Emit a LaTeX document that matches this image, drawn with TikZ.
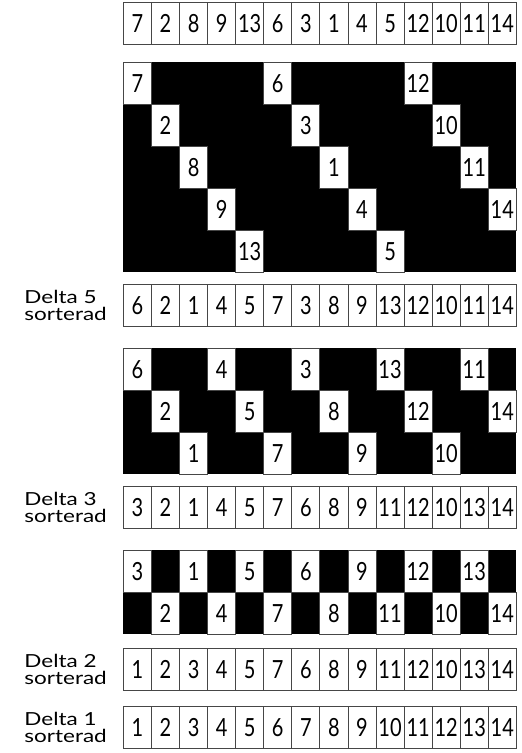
\documentclass[tikz,border=0pt]{standalone}
\usepackage{fontspec}
\setmainfont{Lato}
\newfontfamily\digitfont[FakeStretch=0.8]{Lato}
\newfontfamily\labelfont[FakeStretch=1.25]{Lato}
\usetikzlibrary{positioning}
\definecolor{cellline}{RGB}{70,70,70}
\tikzset{cell/.style={draw=cellline,line width=.8pt,fill=white,anchor=north west,
  minimum width=28.07pt,minimum height=42pt,inner sep=0pt,
  font=\digitfont\fontsize{25}{26}\selectfont},
  lbl/.style={align=left,anchor=east,inner sep=0pt,
  font=\labelfont\fontsize{18}{16.5}\selectfont}}

\begin{document}
\begin{tikzpicture}[x=1pt,y=-1pt]
\useasboundingbox (0,0) rectangle (522,753);
% start row
\foreach \v [count=\i from 0] in {7,2,8,9,13,6,3,1,4,5,12,10,11,14}
  \node[cell] (t\i) at ({123+28.07*\i},2) {\v};
% delta 5
\fill (123,62) rectangle (516,272);
\foreach \v [count=\i from 0] in {7,2,8,9,13,6,3,1,4,5,12,10,11,14}{
  \pgfmathtruncatemacro\r{mod(\i,5)}
  \node[cell] (a\i) at ({123+28.07*\i},{62+42*\r}) {\v};}
\foreach \v [count=\i from 0] in {6,2,1,4,5,7,3,8,9,13,12,10,11,14}
  \node[cell] (p\i) at ({123+28.07*\i},284) {\v};
\node[lbl,left=16pt of p0] (l5) {Delta 5\\sorterad};
% delta 3
\fill (123,348) rectangle (516,474);
\foreach \v [count=\i from 0] in {6,2,1,4,5,7,3,8,9,13,12,10,11,14}{
  \pgfmathtruncatemacro\r{mod(\i,3)}
  \node[cell] (b\i) at ({123+28.07*\i},{348+42*\r}) {\v};}
\foreach \v [count=\i from 0] in {3,2,1,4,5,7,6,8,9,11,12,10,13,14}
  \node[cell] (q\i) at ({123+28.07*\i},486) {\v};
\node[lbl,left=16pt of q0] (l3) {Delta 3\\sorterad};
% delta 2
\fill (123,550) rectangle (516,634);
\foreach \v [count=\i from 0] in {3,2,1,4,5,7,6,8,9,11,12,10,13,14}{
  \pgfmathtruncatemacro\r{mod(\i,2)}
  \node[cell] (c\i) at ({123+28.07*\i},{550+42*\r}) {\v};}
\foreach \v [count=\i from 0] in {1,2,3,4,5,7,6,8,9,11,12,10,13,14}
  \node[cell] (s\i) at ({123+28.07*\i},648) {\v};
\node[lbl,left=16pt of s0] (l2) {Delta 2\\sorterad};
% delta 1
\foreach \v [count=\i from 0] in {1,2,3,4,5,6,7,8,9,10,11,12,13,14}
  \node[cell] (u\i) at ({123+28.07*\i},706) {\v};
\node[lbl,left=16pt of u0] (l1) {Delta 1\\sorterad};
\end{tikzpicture}
\end{document}
